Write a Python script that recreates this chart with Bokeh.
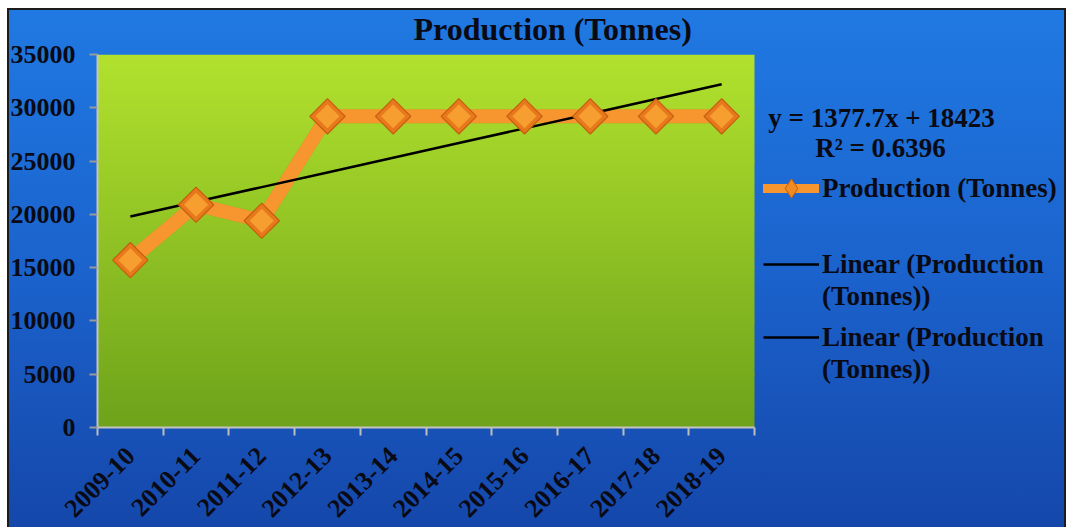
import numpy as np
from bokeh.plotting import figure
from bokeh.models import (Range1d, FixedTicker, Label, Legend, LegendItem,
                          ColumnDataSource)
from bokeh.embed import file_html
from bokeh.resources import INLINE

# ---- data ----
years = ["2009-10", "2010-11", "2011-12", "2012-13", "2013-14",
         "2014-15", "2015-16", "2016-17", "2017-18", "2018-19"]
production = [15700, 20900, 19400, 29200, 29200, 29200, 29200, 29200, 29200, 29200]
trend_slope = 1377.7
trend_intercept = 18423
trend_r2 = 0.6396
y_ticks = [0, 5000, 10000, 15000, 20000, 25000, 30000, 35000]

FONT = "Liberation Serif"
INK = "#0a0a14"
ORANGE = "#f7962f"
EDGE = "#1c1c1c"

n = len(years)
xc = [i + 0.5 for i in range(n)]            # category centres
bounds = list(range(n + 1))                 # category boundaries
idx = np.arange(1, n + 1)
trend = trend_slope * idx + trend_intercept

src = ColumnDataSource(dict(x=xc, y=production, year=years))
tsrc = ColumnDataSource(dict(x=xc, y=trend))

# the frame also hosts the side legend; the data occupy x in [0, n]
PLOT_W, FRAME_W = 657, 968
x_end = n * FRAME_W / PLOT_W

p = figure(frame_width=FRAME_W, frame_height=373,
           min_border_left=89, min_border_right=1,
           min_border_top=54, min_border_bottom=100,
           x_range=Range1d(0, x_end), y_range=Range1d(0, 35000),
           output_backend="svg", toolbar_location=None)
p.margin = (0, 0, 0, 7)
p.border_fill_color = None
p.background_fill_color = None
p.outline_line_color = None
# blue card with a dark edge, starting 8px below the top of the page
p.styles = {"background": (
    f"linear-gradient({EDGE}, {EDGE}) 0 8px / 2px 100% no-repeat, "
    f"linear-gradient({EDGE}, {EDGE}) 100% 8px / 2px 100% no-repeat, "
    f"linear-gradient(to bottom, #ffffff 0px, #ffffff 8px, {EDGE} 8px, {EDGE} 10px, "
    "#2079e2 10px, #1b62cc 52%, #1547aa 100%)")}

# green plot-area wash
top = np.array([178, 226, 46]); bot = np.array([110, 163, 27])
t = np.linspace(0, 1, 256)[:, None]
cols = (bot * (1 - t) + top * t).astype(np.uint32)
img = np.empty((256, 1), dtype=np.uint32)
view = img.view(dtype=np.uint8).reshape((256, 1, 4))
view[:, :, 0] = cols[:, 0:1]
view[:, :, 1] = cols[:, 1:2]
view[:, :, 2] = cols[:, 2:3]
view[:, :, 3] = 255
p.image_rgba(image=[img], x=0, y=0, dw=n, dh=35000)

# grid
p.xgrid.visible = False
yg = p.ygrid[0]
if "cross_bounds" in yg.properties():
    yg.ticker = FixedTicker(ticks=y_ticks[1:])
    yg.cross_bounds = (0, n)
    yg.grid_line_color = "#8a8f78"
    yg.grid_line_width = 2
else:
    yg.visible = False
    gy = y_ticks[1:]
    p.segment(x0=[0] * len(gy), x1=[n] * len(gy), y0=gy, y1=gy,
              line_color="#8a8f78", line_width=2)

# axes
xa = p.xaxis[0]
xa.bounds = (0, n)
xa.ticker = FixedTicker(ticks=xc, minor_ticks=bounds)
xa.major_label_overrides = {x: y for x, y in zip(xc, years)}
xa.major_tick_line_color = None
xa.minor_tick_line_color = "#bdbdbd"
xa.minor_tick_line_width = 2
xa.minor_tick_in = 0
xa.minor_tick_out = 8
xa.axis_line_color = "#c4c4c4"
xa.axis_line_width = 2
xa.major_label_orientation = np.pi / 4
xa.major_label_text_font = FONT
xa.major_label_text_font_style = "bold"
xa.major_label_text_font_size = "26px"
xa.major_label_text_color = INK
xa.major_label_standoff = 16

ya = p.yaxis[0]
ya.ticker = FixedTicker(ticks=y_ticks)
ya.minor_tick_line_color = None
ya.major_tick_line_color = "#9a9a9a"
ya.major_tick_line_width = 2
ya.major_tick_in = 0
ya.major_tick_out = 8
ya.axis_line_color = "#c4c4c4"
ya.axis_line_width = 2
ya.major_label_text_font = FONT
ya.major_label_text_font_style = "bold"
ya.major_label_text_font_size = "26px"
ya.major_label_text_color = INK
ya.major_label_standoff = 14

# title
p.title.text = "Production (Tonnes)"
p.title.align = "left"
p.title.offset = 316
p.title.text_font = FONT
p.title.text_font_style = "bold"
p.title.text_font_size = "32px"
p.title.text_color = INK
p.title.standoff = 16

# production series
shadow = p.line("x", "y", source=src, line_width=14, line_color="#3a5a10",
                line_alpha=0.25, line_join="round")
key_line = p.line("x", "y", source=src, line_width=9, line_color=ORANGE,
                  line_cap="round", line_join="round")
prod_line = p.line("x", "y", source=src, line_width=14, line_color=ORANGE,
                   line_join="round")
trend_r = p.line("x", "y", source=tsrc, line_width=2.5, line_color="black")
key_mark = p.scatter("x", "y", source=src, marker="diamond", size=20,
                     fill_color="#f08a22", line_color="#c45e10", line_width=1)
prod_mark = p.scatter("x", "y", source=src, marker="square", angle=np.pi / 4,
                      size=25, fill_color="#e8781c", line_color="#c45e10",
                      line_width=1.2)
prod_hi = p.scatter("x", "y", source=src, marker="square", angle=np.pi / 4,
                    size=17, fill_color="#fbab35", line_color=None, fill_alpha=0.75)
blank = p.line(x=[], y=[], line_alpha=0)

# regression equation (positions relative to the plot frame, px)
p.add_layout(Label(x=784, y=310, x_units="screen", y_units="screen",
                   text=f"y = {trend_slope}x + {trend_intercept}", text_align="center",
                   text_baseline="middle", text_font=FONT, text_font_style="bold",
                   text_font_size="27px", text_color=INK))
p.add_layout(Label(x=783, y=280, x_units="screen", y_units="screen",
                   text=f"R² = {trend_r2}", text_align="center",
                   text_baseline="middle", text_font=FONT, text_font_style="bold",
                   text_font_size="27px", text_color=INK))


def make_legend(items, loc, gh=32):
    lg = Legend(items=items, location=loc, orientation="vertical",
                background_fill_alpha=0, border_line_color=None,
                padding=0, margin=0, spacing=0,
                glyph_width=56, glyph_height=gh, label_height=32,
                label_standoff=3,
                label_text_font=FONT, label_text_font_style="bold",
                label_text_font_size="27px", label_text_color=INK)
    p.add_layout(lg, "center")
    return lg


make_legend([LegendItem(label="Production (Tonnes)",
                        renderers=[key_line, key_mark])], (666, 215), gh=48)
make_legend([LegendItem(label="Linear (Production", renderers=[trend_r]),
             LegendItem(label="(Tonnes))", renderers=[blank])], (666, 115))
make_legend([LegendItem(label="Linear (Production", renderers=[trend_r]),
             LegendItem(label="(Tonnes))", renderers=[blank])], (666, 42))

open("out.html", "w").write(file_html(p, INLINE))
